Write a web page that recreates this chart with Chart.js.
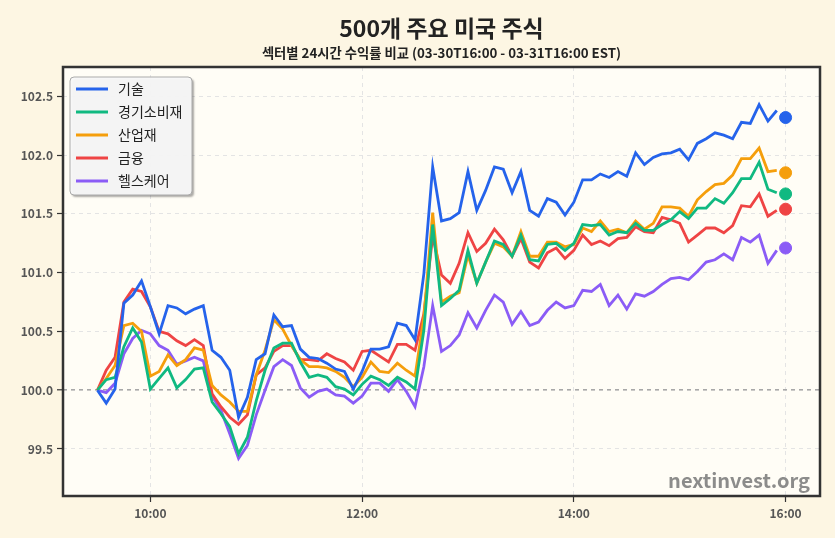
<!DOCTYPE html>
<html>
<head>
<meta charset="utf-8">
<script src="https://cdn.jsdelivr.net/npm/chart.js@4.4.1/dist/chart.umd.min.js"></script>
<style>
  html, body { margin: 0; padding: 0; background: #fdf6e3; }
  #wrap { width: 835px; height: 538px; }
</style>
</head>
<body>
<div id="wrap"><canvas id="chart" width="835" height="538"></canvas></div>
<script>
// 5-minute bars, 09:30 .. 15:55 (minutes after midnight)
var startMinute = 570;
var stepMinutes = 5;

var tech = [100.00, 99.89, 100.01, 100.74, 100.81, 100.93, 100.71, 100.48, 100.72, 100.70,
  100.65, 100.69, 100.72, 100.34, 100.28, 100.17, 99.77, 99.94, 100.26, 100.31,
  100.64, 100.54, 100.55, 100.35, 100.28, 100.27, 100.23, 100.18, 100.16, 100.01,
  100.16, 100.35, 100.35, 100.37, 100.57, 100.55, 100.43, 100.99, 101.90, 101.44,
  101.46, 101.51, 101.86, 101.53, 101.70, 101.90, 101.88, 101.68, 101.86, 101.53,
  101.48, 101.63, 101.60, 101.49, 101.60, 101.79, 101.79, 101.84, 101.81, 101.86,
  101.82, 102.02, 101.92, 101.98, 102.01, 102.02, 102.05, 101.96, 102.10, 102.14,
  102.19, 102.17, 102.14, 102.28, 102.27, 102.43, 102.29, 102.38];

var consumer = [100.00, 100.09, 100.11, 100.37, 100.53, 100.41, 100.01, 100.10, 100.19, 100.02,
  100.09, 100.18, 100.19, 99.90, 99.80, 99.69, 99.46, 99.60, 99.91, 100.17,
  100.36, 100.40, 100.40, 100.24, 100.11, 100.13, 100.11, 100.03, 100.01, 99.96,
  100.05, 100.12, 100.09, 100.04, 100.11, 100.07, 100.01, 100.51, 101.41, 100.72,
  100.78, 100.85, 101.19, 100.91, 101.09, 101.27, 101.24, 101.14, 101.32, 101.11,
  101.10, 101.24, 101.25, 101.19, 101.25, 101.41, 101.40, 101.41, 101.32, 101.35,
  101.34, 101.42, 101.36, 101.36, 101.41, 101.45, 101.52, 101.46, 101.55, 101.55,
  101.63, 101.59, 101.68, 101.80, 101.80, 101.94, 101.71, 101.68];

var industrial = [100.00, 100.10, 100.21, 100.55, 100.57, 100.50, 100.12, 100.16, 100.30, 100.21,
  100.26, 100.36, 100.34, 100.04, 99.96, 99.90, 99.82, 99.82, 100.13, 100.34,
  100.60, 100.52, 100.38, 100.26, 100.20, 100.20, 100.19, 100.16, 100.11, 100.03,
  100.11, 100.24, 100.16, 100.15, 100.23, 100.17, 100.12, 100.62, 101.51, 100.75,
  100.80, 100.83, 101.15, 100.91, 101.09, 101.25, 101.22, 101.14, 101.35, 101.14,
  101.14, 101.26, 101.26, 101.22, 101.24, 101.38, 101.35, 101.44, 101.35, 101.37,
  101.34, 101.44, 101.37, 101.42, 101.56, 101.56, 101.55, 101.48, 101.62, 101.69,
  101.75, 101.76, 101.83, 101.97, 101.97, 102.06, 101.86, 101.87];

var financial = [100.00, 100.17, 100.28, 100.75, 100.86, 100.84, 100.71, 100.50, 100.48, 100.42,
  100.38, 100.43, 100.38, 99.97, 99.86, 99.77, 99.71, 99.79, 100.13, 100.19,
  100.33, 100.38, 100.38, 100.26, 100.26, 100.25, 100.31, 100.27, 100.24, 100.17,
  100.33, 100.34, 100.29, 100.24, 100.39, 100.39, 100.34, 100.65, 101.31, 100.98,
  100.91, 101.08, 101.34, 101.18, 101.25, 101.37, 101.28, 101.14, 101.29, 101.09,
  101.04, 101.17, 101.21, 101.12, 101.19, 101.32, 101.24, 101.27, 101.23, 101.29,
  101.30, 101.39, 101.35, 101.34, 101.47, 101.45, 101.42, 101.26, 101.32, 101.38,
  101.38, 101.34, 101.40, 101.57, 101.56, 101.67, 101.48, 101.53];

var health = [100.00, 99.98, 100.06, 100.31, 100.44, 100.51, 100.48, 100.38, 100.34, 100.22,
  100.25, 100.28, 100.25, 99.95, 99.83, 99.63, 99.42, 99.53, 99.79, 100.00,
  100.20, 100.26, 100.21, 100.02, 99.94, 99.99, 100.01, 99.96, 99.95, 99.89,
  99.95, 100.06, 100.06, 99.99, 100.09, 99.99, 99.86, 100.20, 100.72, 100.33,
  100.38, 100.47, 100.66, 100.53, 100.68, 100.81, 100.75, 100.56, 100.67, 100.55,
  100.58, 100.68, 100.75, 100.70, 100.72, 100.85, 100.84, 100.90, 100.72, 100.81,
  100.69, 100.82, 100.80, 100.84, 100.90, 100.95, 100.96, 100.94, 101.01, 101.09,
  101.11, 101.16, 101.11, 101.30, 101.26, 101.32, 101.08, 101.19];

// closing values at 16:00, drawn as dots
var closeMinute = 960;
var closeValues = [102.32, 101.67, 101.85, 101.54, 101.21];

var sectorNames = ['기술', '경기소비재', '산업재', '금융', '헬스케어'];
var sectorColors = ['#2563eb', '#10b981', '#f59e0b', '#ef4444', '#8b5cf6'];
var xTickValues = [600, 720, 840, 960];
var xTickLabels = ['10:00', '12:00', '14:00', '16:00'];
var yTickValues = [99.5, 100.0, 100.5, 101.0, 101.5, 102.0, 102.5];

var titleText = '500개 주요 미국 주식';
var subtitleText = '섹터별 24시간 수익률 비교 (03-30T16:00 - 03-31T16:00 EST)';
var FONT = '"Noto Sans CJK KR", "Noto Sans", sans-serif';

var series = [tech, consumer, industrial, financial, health];

function toPoints(values) {
  return values.map(function (v, i) {
    return { x: startMinute + i * stepMinutes, y: v };
  });
}

var datasets = [];
series.forEach(function (vals, k) {
  datasets.push({
    type: 'line',
    label: sectorNames[k],
    data: toPoints(vals),
    borderColor: sectorColors[k],
    borderWidth: 2.8,
    pointRadius: 0,
    tension: 0,
    fill: false
  });
});
series.forEach(function (vals, k) {
  datasets.push({
    type: 'scatter',
    label: sectorNames[k] + ' 종가',
    data: [{ x: closeMinute, y: closeValues[k] }],
    backgroundColor: sectorColors[k],
    borderColor: sectorColors[k],
    pointRadius: 6,
    pointHoverRadius: 6
  });
});

var decor = {
  id: 'decor',
  beforeDraw: function (chart) {
    var ctx = chart.ctx, a = chart.chartArea;
    ctx.save();
    ctx.fillStyle = '#fdf6e3';
    ctx.fillRect(0, 0, chart.width, chart.height);
    ctx.fillStyle = '#fffdf6';
    ctx.fillRect(a.left, a.top, a.right - a.left, a.bottom - a.top);
    ctx.restore();
  },
  afterDraw: function (chart) {
    var ctx = chart.ctx, a = chart.chartArea;
    var cx = (a.left + a.right) / 2;
    ctx.save();

    // frame
    ctx.strokeStyle = '#333333';
    ctx.lineWidth = 2.5;
    ctx.strokeRect(a.left, a.top, a.right - a.left, a.bottom - a.top);

    // title + subtitle
    ctx.fillStyle = '#222222';
    ctx.textAlign = 'center';
    ctx.textBaseline = 'alphabetic';
    ctx.font = 'bold 23px ' + FONT;
    ctx.fillText(titleText, cx, 37);
    ctx.font = 'bold 13.3px ' + FONT;
    ctx.fillText(subtitleText, cx, 58);

    // watermark
    ctx.fillStyle = 'rgba(120,120,120,0.85)';
    ctx.textAlign = 'right';
    ctx.font = 'bold 20px ' + FONT;
    ctx.fillText('nextinvest.org', a.right - 10, a.bottom - 8);

    // legend
    var lx = 70, ly = 77, lw = 122, lh = 118;
    ctx.shadowColor = 'rgba(0,0,0,0.35)';
    ctx.shadowOffsetX = 2;
    ctx.shadowOffsetY = 2;
    ctx.shadowBlur = 2;
    ctx.fillStyle = 'rgba(248,248,248,0.95)';
    ctx.beginPath();
    ctx.roundRect(lx, ly, lw, lh, 4);
    ctx.fill();
    ctx.shadowColor = 'transparent';
    ctx.strokeStyle = '#aaaaaa';
    ctx.lineWidth = 1;
    ctx.stroke();
    ctx.textAlign = 'left';
    ctx.textBaseline = 'middle';
    ctx.font = '14px ' + FONT;
    sectorNames.forEach(function (name, k) {
      var y = ly + 12 + k * 23;
      ctx.strokeStyle = sectorColors[k];
      ctx.lineWidth = 3;
      ctx.beginPath();
      ctx.moveTo(lx + 6, y);
      ctx.lineTo(lx + 38, y);
      ctx.stroke();
      ctx.fillStyle = '#222222';
      ctx.fillText(name, lx + 48, y);
    });
    ctx.restore();
  }
};

function hhmm(m) {
  var h = Math.floor(m / 60), mm = m % 60;
  return (h < 10 ? '0' : '') + h + ':' + (mm < 10 ? '0' : '') + mm;
}

new Chart(document.getElementById('chart'), {
  data: { datasets: datasets },
  options: {
    responsive: false,
    animation: false,
    devicePixelRatio: 1,
    layout: { padding: { left: 0, top: 67, right: 15, bottom: 0 } },
    plugins: {
      legend: { display: false },
      title: { display: false },
      tooltip: { enabled: false }
    },
    scales: {
      x: {
        type: 'linear',
        min: 550.5,
        max: 979.5,
        afterFit: function (s) { s.height = 42; },
        afterBuildTicks: function (s) {
          s.ticks = xTickValues.map(function (v) { return { value: v }; });
        },
        grid: {
          color: '#e4e4e4',
          lineWidth: 1,
          drawTicks: true,
          tickLength: 6,
          tickColor: '#333333',
          tickWidth: 1.2
        },
        border: { display: false, dash: [4, 4] },
        ticks: {
          color: '#555555',
          font: { family: FONT, size: 12, weight: 'bold' },
          padding: 4,
          maxRotation: 0,
          callback: function (v) {
            var i = xTickValues.indexOf(v);
            return i >= 0 ? xTickLabels[i] : hhmm(v);
          }
        }
      },
      y: {
        type: 'linear',
        min: 99.1,
        max: 102.75,
        afterFit: function (s) { s.width = 63; },
        afterBuildTicks: function (s) {
          s.ticks = yTickValues.map(function (v) { return { value: v }; });
        },
        grid: {
          color: function (c) {
            return c.tick && c.tick.value === 100 ? '#a8a8a8' : '#e4e4e4';
          },
          lineWidth: function (c) {
            return c.tick && c.tick.value === 100 ? 1.6 : 1;
          },
          drawTicks: true,
          tickLength: 6,
          tickColor: '#333333',
          tickWidth: 1.2
        },
        border: { display: false, dash: [4, 4] },
        ticks: {
          color: '#555555',
          font: { family: FONT, size: 12, weight: 'bold' },
          padding: 4,
          callback: function (v) { return v.toFixed(1); }
        }
      }
    }
  },
  plugins: [decor]
});
</script>
</body>
</html>
